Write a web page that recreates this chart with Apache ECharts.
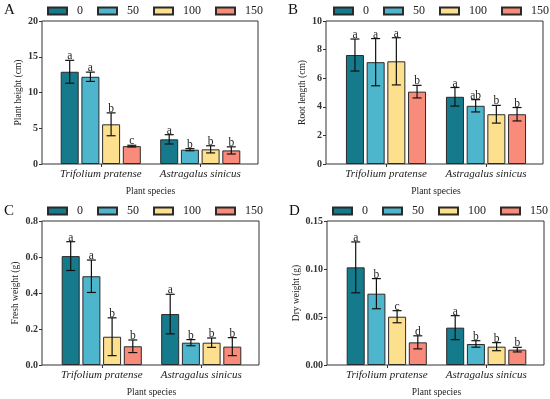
<!DOCTYPE html>
<html>
<head>
<meta charset="utf-8">
<script src="https://cdn.jsdelivr.net/npm/echarts@6/dist/echarts.min.js"></script>
<style>html,body{margin:0;padding:0;background:#fff}#c{width:550px;height:399px}</style>
</head>
<body>
<div id="c"></div>
<script>
// ---- data ----
const categories = ['Trifolium pratense', 'Astragalus sinicus'];
const treatments = ['0', '50', '100', '150'];

// Panel A: plant height (cm); each inner array = [Trifolium, Astragalus]
const heightMean = [[12.9, 3.45], [12.2, 2.0], [5.55, 2.05], [2.5, 1.9]];
const heightErr  = [[1.6, 0.65], [0.65, 0.15], [1.6, 0.5], [0.12, 0.5]];
const heightLetters = [['a', 'a'], ['a', 'b'], ['b', 'b'], ['c', 'b']];

// Panel B: root length (cm)
const rootMean = [[7.62, 4.7], [7.12, 4.07], [7.18, 3.48], [5.06, 3.48]];
const rootErr  = [[1.12, 0.65], [1.65, 0.43], [1.65, 0.62], [0.44, 0.47]];
const rootLetters = [['a', 'a'], ['a', 'ab'], ['a', 'b'], ['b', 'b']];

// Panel C: fresh weight (g)
const freshMean = [[0.605, 0.283], [0.493, 0.124], [0.157, 0.124], [0.104, 0.102]];
const freshErr  = [[0.08, 0.11], [0.09, 0.017], [0.105, 0.026], [0.035, 0.05]];
const freshLetters = [['a', 'a'], ['a', 'b'], ['b', 'b'], ['b', 'b']];

// Panel D: dry weight (g)
const dryMean = [[0.1017, 0.0389], [0.0743, 0.0219], [0.0503, 0.0191], [0.0236, 0.016]];
const dryErr  = [[0.0265, 0.0125], [0.0157, 0.0034], [0.0063, 0.0042], [0.0068, 0.0024]];
const dryLetters = [['a', 'a'], ['b', 'b'], ['c', 'b'], ['d', 'b']];

const yMax = [20, 10, 0.8, 0.15];
const yStep = [5, 2, 0.2, 0.05];
const yDigits = [0, 0, 1, 2];
const yNames = ['Plant height (cm)', 'Root length (cm)', 'Fresh weight (g)', 'Dry weight (g)'];
const panelLabels = ['A', 'B', 'C', 'D'];
const xName = 'Plant species';

// ---- styles ----
const colors = ['#157a8c', '#4db6cc', '#fde08e', '#f98b7b'];
const serif = '"Liberation Serif", "Times New Roman", serif';
const BAR_W = 18, BAR_GAP = 0.15;
const STEP = BAR_W * (1 + BAR_GAP);

const panels = [
  { mean: heightMean, err: heightErr, letters: heightLetters,
    outer: {left: 42, top: 21, width: 216, height: 143}, innerLeft: 51, innerWidth: 199,
    legend: {left: 47, top: 5}, label: {x: 4, y: 3}, nameGap: 19 },
  { mean: rootMean, err: rootErr, letters: rootLetters,
    outer: {left: 326, top: 21, width: 217, height: 143}, innerLeft: 336, innerWidth: 200,
    legend: {left: 333, top: 5}, label: {x: 288, y: 3}, nameGap: 19 },
  { mean: freshMean, err: freshErr, letters: freshLetters,
    outer: {left: 42, top: 221, width: 217, height: 144}, innerLeft: 52, innerWidth: 199,
    legend: {left: 47, top: 205}, label: {x: 4, y: 204}, nameGap: 22 },
  { mean: dryMean, err: dryErr, letters: dryLetters,
    outer: {left: 327, top: 221, width: 217, height: 144}, innerLeft: 337, innerWidth: 199,
    legend: {left: 332, top: 205}, label: {x: 289, y: 204}, nameGap: 22 }
];

const grid = [], xAxis = [], yAxis = [], series = [], legend = [], graphic = [];

panels.forEach((p, k) => {
  const gOuter = grid.length;
  grid.push({ left: p.outer.left, top: p.outer.top, width: p.outer.width, height: p.outer.height,
              show: true, borderColor: '#333', borderWidth: 1, backgroundColor: 'transparent' });
  const gInner = grid.length;
  grid.push({ left: p.innerLeft, top: p.outer.top, width: p.innerWidth, height: p.outer.height });

  xAxis.push({ gridIndex: gOuter, type: 'value', min: 0, max: 1, show: false });
  const axInnerX = xAxis.length;
  xAxis.push({ gridIndex: gInner, type: 'category', data: categories,
    axisLine: { show: false },
    axisTick: { show: true, alignWithLabel: true, length: 3, lineStyle: { color: '#333' } },
    axisLabel: { interval: 0, fontFamily: serif, fontStyle: 'italic', fontSize: 11, color: '#222', margin: 5 },
    name: xName, nameLocation: 'middle', nameGap: 22,
    nameTextStyle: { fontFamily: serif, fontSize: 9.5, color: '#222' } });

  yAxis.push({ gridIndex: gOuter, type: 'value', min: 0, max: yMax[k], interval: yStep[k],
    splitLine: { show: false }, axisLine: { show: false },
    axisTick: { show: true, length: 3, lineStyle: { color: '#333' } },
    axisLabel: { fontFamily: serif, fontSize: 10, color: '#333', fontWeight: 'bold', margin: 4,
                 formatter: v => v.toFixed(yDigits[k]) },
    name: yNames[k], nameLocation: 'middle', nameGap: p.nameGap, nameRotate: 90,
    nameTextStyle: { fontFamily: serif, fontSize: 9.5, color: '#222' } });
  const axInnerY = yAxis.length;
  yAxis.push({ gridIndex: gInner, type: 'value', min: 0, max: yMax[k], interval: yStep[k], show: false,
    splitLine: { show: false } });

  treatments.forEach((t, j) => {
    series.push({ type: 'bar', name: t, xAxisIndex: axInnerX, yAxisIndex: axInnerY,
      data: p.mean[j], barWidth: BAR_W, barGap: (BAR_GAP * 100) + '%',
      itemStyle: { color: colors[j], borderColor: '#2a2a2a', borderWidth: 1 } });
  });
  treatments.forEach((t, j) => {
    const offset = (j - 1.5) * STEP;
    const letters = p.letters[j];
    series.push({ type: 'custom', name: 'err' + k + '_' + j, xAxisIndex: axInnerX, yAxisIndex: axInnerY,
      z: 5,
      data: p.mean[j].map((m, i) => [i, m, p.err[j][i]]),
      renderItem: (params, api) => {
        const ci = api.value(0), m = api.value(1), e = api.value(2);
        const x = api.coord([ci, m])[0] + offset;
        const yt = api.coord([ci, m + e])[1];
        const yb = api.coord([ci, m - e])[1];
        const half = 4.5;
        const st = { stroke: '#111', lineWidth: 1.2 };
        return { type: 'group', children: [
          { type: 'line', shape: { x1: x, y1: yt, x2: x, y2: yb }, style: st },
          { type: 'line', shape: { x1: x - half, y1: yt, x2: x + half, y2: yt }, style: st },
          { type: 'line', shape: { x1: x - half, y1: yb, x2: x + half, y2: yb }, style: st },
          { type: 'text', style: { text: letters[params.dataIndex], x: x, y: yt + 2,
              textAlign: 'center', textVerticalAlign: 'bottom',
              font: '11.5px ' + serif, fill: '#222' } }
        ] };
      } });
  });

  legend.push({ data: treatments, left: p.legend.left, top: p.legend.top, width: 260, padding: 0,
    icon: 'rect', itemWidth: 19, itemHeight: 7, itemGap: 14, selectedMode: false,
    textStyle: { fontFamily: serif, fontSize: 12, color: '#222', padding: [0, 0, 0, 5] } });

  graphic.push({ type: 'text', left: p.label.x, top: p.label.y,
    style: { text: panelLabels[k], font: '15px ' + serif, fill: '#111' } });
});

const chart = echarts.init(document.getElementById('c'), null, { renderer: 'canvas' });
chart.setOption({ animation: false, grid, xAxis, yAxis, series, legend, graphic });
</script>
</body>
</html>
